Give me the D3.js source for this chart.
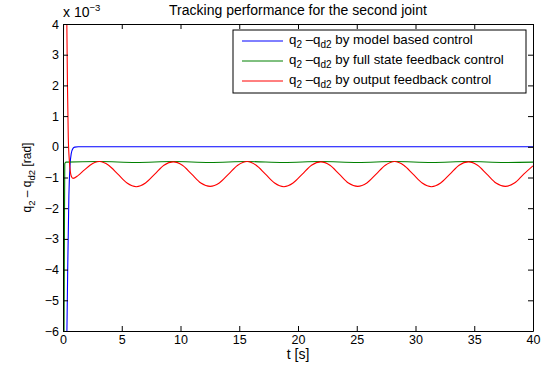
<!DOCTYPE html>
<html lang="en">
<head>
    <meta charset="UTF-8">
    <title>Tracking performance for the second joint</title>
    <style>
        body { margin: 0; background: #fff; }
        svg { display: block; font-family: "Liberation Sans", Arial, sans-serif; }
        svg .axis path { stroke: #000; stroke-width: 1px; }
        svg .axis line { stroke: #000; stroke-width: 1px; }
        svg .axis text { font-size: 12.5px; fill: #000; }
        svg .curve { fill: none; stroke-width: 1.1px; }
        svg .label { font-size: 12px; fill: #000; }
        svg .title { font-size: 14px; fill: #000; }
        svg .legend-text { font-size: 13.3px; fill: #000; }
        svg .legend-box { fill: #fff; stroke: #000; stroke-width: 1px; }
    </style>
</head>
<body>
<div id="d3-graph"></div>
<script src="https://cdnjs.cloudflare.com/ajax/libs/d3/7.8.5/d3.min.js"></script>
<script>
  // values are in units of 1e-3 rad, time in seconds
  var xTicks = [0, 5, 10, 15, 20, 25, 30, 35, 40];
  var yTicks = [-6, -5, -4, -3, -2, -1, 0, 1, 2, 3, 4];

  var modelBased = [
    [0, -12], [0.3, -7], [0.4, -4], [0.5, -1.6], [0.6, -0.6], [0.7, -0.22],
    [0.85, -0.05], [1.0, -0.01], [1.3, 0], [10, 0], [20, 0], [30, 0], [40, 0]
  ];

  var fullState = [
    [0, -12], [0.08, -7], [0.12, -3], [0.15, -0.55], [0.25, -0.5],
    [3.1, -0.48], [6.2, -0.51], [9.4, -0.48], [12.5, -0.51], [15.7, -0.48],
    [18.8, -0.51], [21.9, -0.48], [25.1, -0.51], [28.2, -0.48], [31.4, -0.51],
    [34.5, -0.48], [37.6, -0.51], [40, -0.5]
  ];

  var outputFeedback = [
    [0, 0], [0.03, 3], [0.08, 6], [0.2, 7], [0.3, 5], [0.38, 2], [0.45, 0.3],
    [0.55, -0.5], [0.7, -0.95], [0.85, -1.03], [1.3, -0.93], [1.8, -0.76],
    [2.3, -0.6], [2.7, -0.51], [3.1, -0.48],
    [3.88, -0.60], [4.67, -0.89], [5.45, -1.18], [6.24, -1.30],
    [7.02, -1.18], [7.81, -0.89], [8.59, -0.60], [9.38, -0.49],
    [10.16, -0.60], [10.95, -0.89], [11.73, -1.18], [12.52, -1.29],
    [13.3, -1.18], [14.09, -0.89], [14.87, -0.60], [15.66, -0.48],
    [16.44, -0.60], [17.23, -0.89], [18.01, -1.18], [18.8, -1.30],
    [19.58, -1.18], [20.37, -0.89], [21.15, -0.60], [21.94, -0.49],
    [22.72, -0.60], [23.51, -0.89], [24.29, -1.18], [25.08, -1.29],
    [25.86, -1.18], [26.65, -0.89], [27.43, -0.60], [28.22, -0.48],
    [29.0, -0.60], [29.79, -0.89], [30.57, -1.18], [31.36, -1.30],
    [32.14, -1.18], [32.93, -0.89], [33.71, -0.60], [34.5, -0.49],
    [35.28, -0.60], [36.07, -0.89], [36.85, -1.18], [37.64, -1.29],
    [38.42, -1.18], [39.21, -0.89], [40.0, -0.62]
  ];

  var seriesNames = ['by model based control', 'by full state feedback control', 'by output feedback control'];
  var seriesColors = ['#0000ff', '#008000', '#ff0000'];

  var width = 546,
    height = 371,
    margin = {top: 24, right: 13, bottom: 40, left: 63},
    innerWidth = width - margin.left - margin.right,
    innerHeight = height - margin.top - margin.bottom;

  var svg = d3.select('#d3-graph').append('svg')
    .attr('width', width)
    .attr('height', height);

  var x = d3.scaleLinear().domain([0, 40]).range([0, innerWidth]);
  var y = d3.scaleLinear().domain([-6, 4]).range([innerHeight, 0]);

  var canvas = svg.append('g')
    .attr('transform', 'translate(' + margin.left + ',' + margin.top + ')');

  canvas.append('defs').append('clipPath')
    .attr('id', 'plot-clip')
    .append('rect')
    .attr('width', innerWidth)
    .attr('height', innerHeight);

  var lineGen = d3.line()
    .x(function(d) { return x(d[0]); })
    .y(function(d) { return y(d[1]); })
    .curve(d3.curveMonotoneX);

  var curves = canvas.append('g').attr('clip-path', 'url(#plot-clip)');
  [modelBased, fullState, outputFeedback].forEach(function(s, i) {
    curves.append('path')
      .datum(s)
      .attr('class', 'curve')
      .attr('stroke', seriesColors[i])
      .attr('d', lineGen);
  });

  // axes, matlab style: ticks pointing inwards on all four sides
  canvas.append('g')
    .attr('class', 'axis')
    .attr('transform', 'translate(0,' + innerHeight + ')')
    .call(d3.axisBottom(x).tickValues(xTicks).tickSizeInner(-5).tickSizeOuter(0).tickPadding(4).tickFormat(d3.format('d')));

  canvas.append('g')
    .attr('class', 'axis')
    .call(d3.axisTop(x).tickValues(xTicks).tickSizeInner(-5).tickSizeOuter(0).tickFormat(''));

  canvas.append('g')
    .attr('class', 'axis')
    .call(d3.axisLeft(y).tickValues(yTicks).tickSizeInner(-5).tickSizeOuter(0).tickPadding(4)
      .tickFormat(function(d) { return d < 0 ? '\u2212' + Math.abs(d) : d; }));

  canvas.append('g')
    .attr('class', 'axis')
    .attr('transform', 'translate(' + innerWidth + ',0)')
    .call(d3.axisRight(y).tickValues(yTicks).tickSizeInner(-5).tickSizeOuter(0).tickFormat(''));

  canvas.selectAll('.axis .domain').attr('fill', 'none');

  // title and labels
  svg.append('text')
    .attr('class', 'title')
    .attr('x', margin.left + innerWidth / 2)
    .attr('y', 15)
    .attr('text-anchor', 'middle')
    .text('Tracking performance for the second joint');

  var expo = svg.append('text')
    .attr('class', 'title')
    .attr('x', margin.left)
    .attr('y', 17);
  expo.append('tspan').text('x 10');
  expo.append('tspan').attr('dy', -6).attr('font-size', '9.5px').text('\u22123');

  svg.append('text')
    .attr('class', 'title')
    .attr('x', margin.left + innerWidth / 2)
    .attr('y', 359)
    .attr('text-anchor', 'middle')
    .text('t [s]');

  var yLabel = svg.append('text')
    .attr('class', 'label')
    .attr('text-anchor', 'middle')
    .attr('transform', 'translate(31,' + (margin.top + innerHeight / 2) + ') rotate(-90)');
  yLabel.append('tspan').text('q');
  yLabel.append('tspan').attr('dy', 4).attr('font-size', '9.5px').text('2');
  yLabel.append('tspan').attr('dy', -4).text(' \u2013 q');
  yLabel.append('tspan').attr('dy', 4).attr('font-size', '9.5px').text('d2');
  yLabel.append('tspan').attr('dy', -4).text(' [rad]');

  // legend
  var legend = svg.append('g').attr('transform', 'translate(233,30)');
  legend.append('rect')
    .attr('class', 'legend-box')
    .attr('width', 293)
    .attr('height', 63);

  seriesNames.forEach(function(name, i) {
    var ly = 11 + i * 20;
    legend.append('line')
      .attr('x1', 9).attr('x2', 50)
      .attr('y1', ly).attr('y2', ly)
      .attr('stroke', seriesColors[i])
      .attr('stroke-width', 1);
    var t = legend.append('text')
      .attr('class', 'legend-text')
      .attr('x', 56)
      .attr('y', ly + 3);
    t.append('tspan').text('q');
    t.append('tspan').attr('dy', 4).attr('font-size', '10px').text('2');
    t.append('tspan').attr('dy', -4).text(' \u2013q');
    t.append('tspan').attr('dy', 4).attr('font-size', '10px').text('d2');
    t.append('tspan').attr('dy', -4).text(' ' + name);
  });
</script>
</body>
</html>
